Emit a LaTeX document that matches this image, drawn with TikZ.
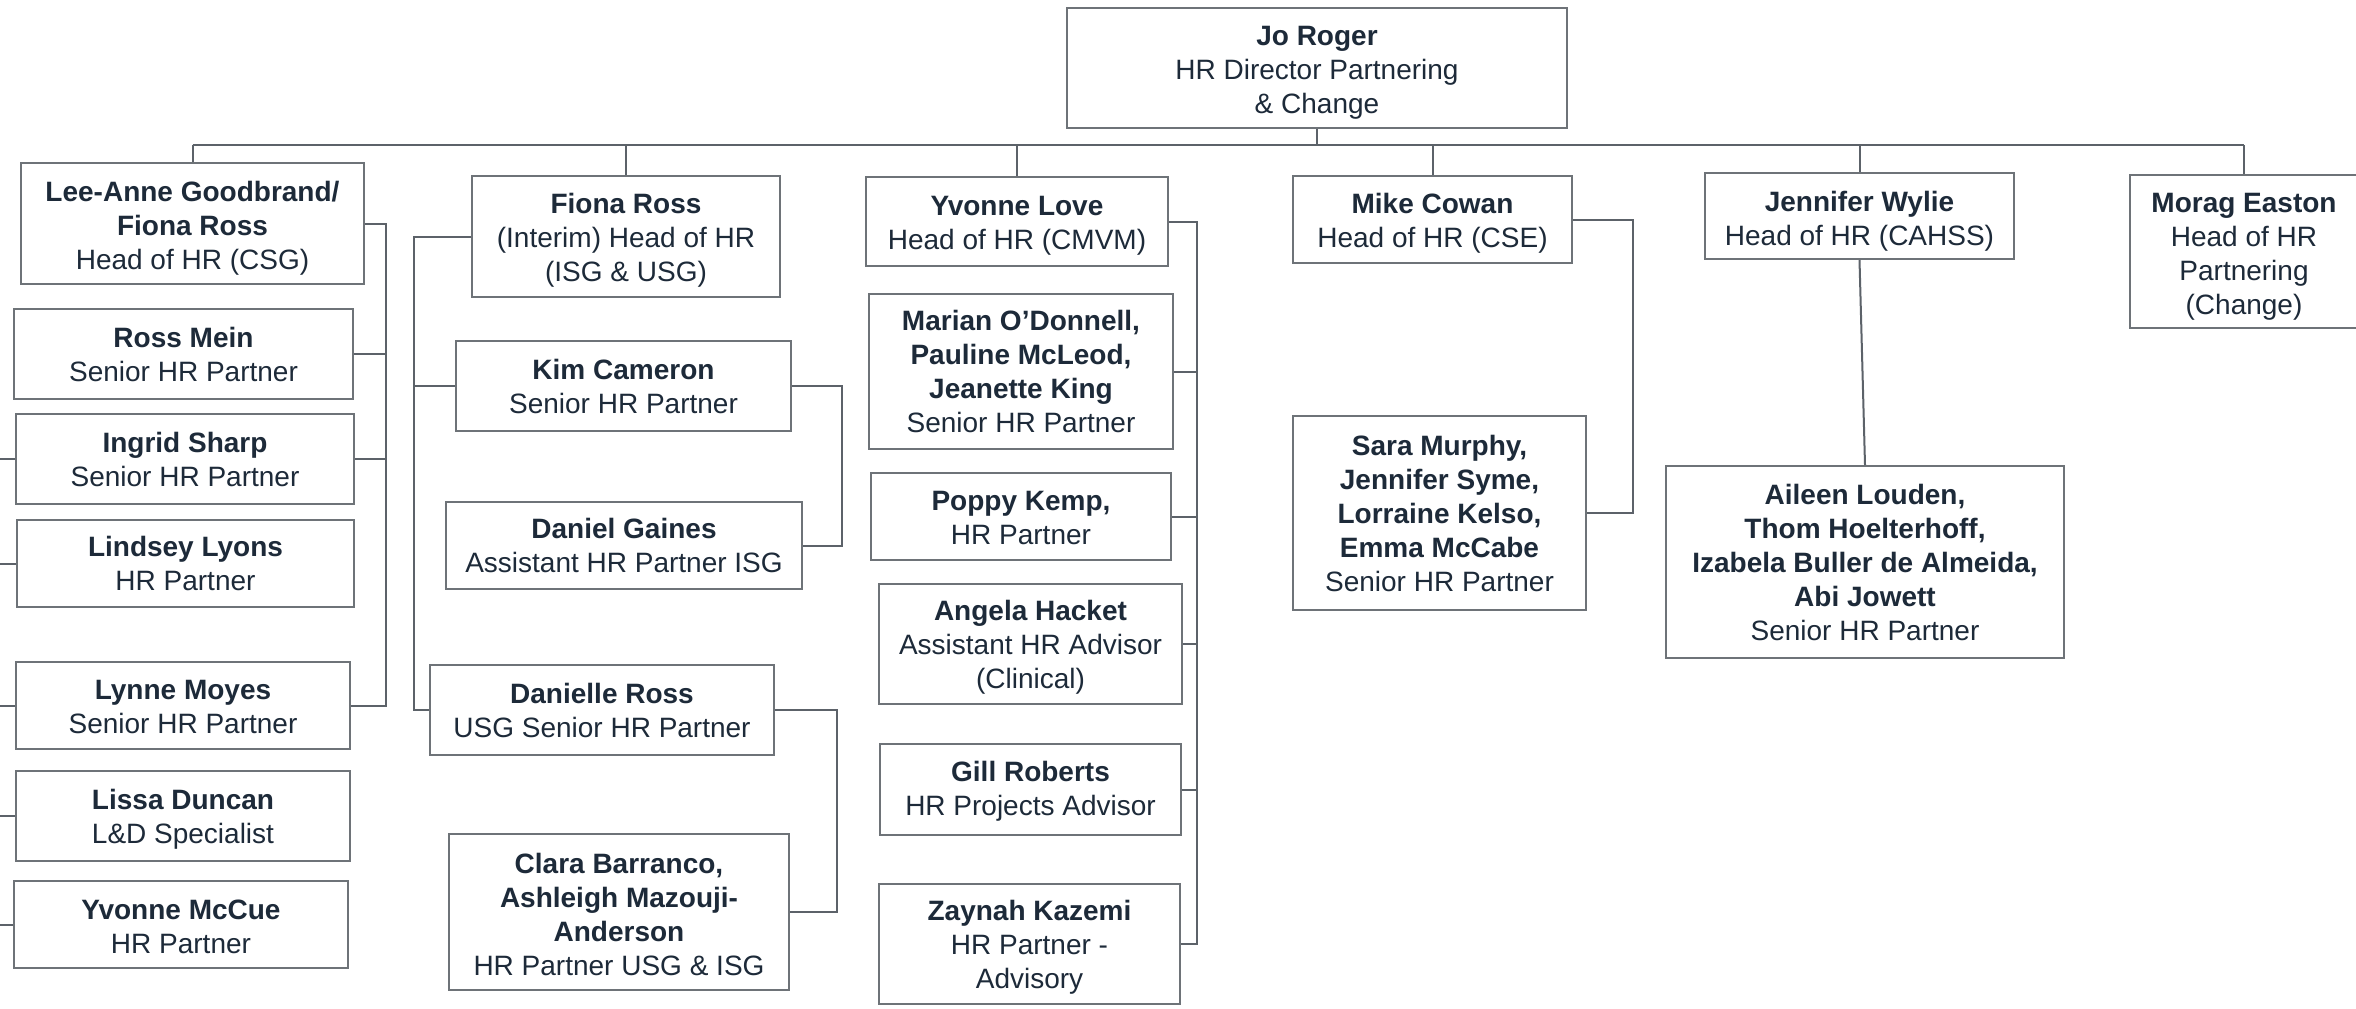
\documentclass[tikz,border=0pt]{standalone}
\usepackage{fontspec}
\setmainfont{Liberation Sans}
\definecolor{txt}{HTML}{1D2A39}
\definecolor{bord}{HTML}{6E7378}
\definecolor{conn}{HTML}{5C6269}
\tikzset{
  pbox/.style={draw=bord, line width=1pt, inner sep=0pt, fill=white},
  ptext/.style={inner sep=0pt, align=center, text=txt,
    font=\fontsize{14}{17}\selectfont},
  link/.style={draw=conn, line width=1pt},
}
% #1 = downward text shift (px), #2 name, #3..#6 box corners (px), #7 text
\newcommand\orgbox[7][0]{%
  \pgfmathsetmacro\cx{(#3+#5)/2}\pgfmathsetmacro\cy{(#4+#6)/2}%
  \pgfmathsetmacro\ty{\cy+#1}%
  \pgfmathsetmacro\bw{(#5-#3)*0.5}\pgfmathsetmacro\bh{(#6-#4)*0.5}%
  \node[pbox, minimum width=\bw pt, minimum height=\bh pt] (#2) at (\cx,\cy) {};
  \node[ptext] (#2-t) at (\cx,\ty) {#7};}
\begin{document}
\begin{tikzpicture}[x=0.5pt,y=-0.5pt]
\useasboundingbox (0,0) rectangle (2356,1008);
\clip (0,0) rectangle (2356,1008);
\fill[white] (0,0) rectangle (2356,1008);
% top
\orgbox[4.5]{jo}{1067}{8}{1567}{128}{\textbf{Jo Roger}\\HR Director Partnering\\\& Change}
% CSG
\orgbox[4.5]{la}{21}{163}{364}{284}{\textbf{Lee-Anne Goodbrand/}\\\textbf{Fiona Ross}\\Head of HR (CSG)}
\orgbox{rm}{14}{309}{353}{399}{\textbf{Ross Mein}\\Senior HR Partner}
\orgbox{is}{16}{414}{354}{504}{\textbf{Ingrid Sharp}\\Senior HR Partner}
\orgbox{ll}{17}{520}{354}{607}{\textbf{Lindsey Lyons}\\HR Partner}
\orgbox[1.5]{lm}{16}{662}{350}{749}{\textbf{Lynne Moyes}\\Senior HR Partner}
\orgbox[3]{ld}{16}{771}{350}{861}{\textbf{Lissa Duncan}\\L\&D Specialist}
\orgbox[2]{ym}{14}{881}{348}{968}{\textbf{Yvonne McCue}\\HR Partner}
% ISG & USG
\orgbox[3.5]{fr}{472}{176}{780}{297}{\textbf{Fiona Ross}\\(Interim) Head of HR\\(ISG \& USG)}
\orgbox{kc}{456}{341}{791}{431}{\textbf{Kim Cameron}\\Senior HR Partner}
\orgbox{dg}{446}{502}{802}{589}{\textbf{Daniel Gaines}\\Assistant HR Partner ISG}
\orgbox{dr}{430}{665}{774}{755}{\textbf{Danielle Ross}\\USG Senior HR Partner}
\orgbox[2]{cb}{449}{834}{789}{990}{\textbf{Clara Barranco,}\\\textbf{Ashleigh Mazouji-}\\\textbf{Anderson}\\HR Partner USG \& ISG}
% CMVM
\orgbox[4.5]{yl}{866}{177}{1168}{266}{\textbf{Yvonne Love}\\Head of HR (CMVM)}
\orgbox{mo}{869}{294}{1173}{449}{\textbf{Marian O’Donnell,}\\\textbf{Pauline McLeod,}\\\textbf{Jeanette King}\\Senior HR Partner}
\orgbox[1.5]{pk}{871}{473}{1171}{560}{\textbf{Poppy Kemp,}\\HR Partner}
\orgbox[3.5]{ah}{879}{584}{1182}{704}{\textbf{Angela Hacket}\\Assistant HR Advisor\\(Clinical)}
\orgbox[2]{gr}{880}{744}{1181}{835}{\textbf{Gill Roberts}\\HR Projects Advisor}
\orgbox[3.5]{zk}{879}{884}{1180}{1004}{\textbf{Zaynah Kazemi}\\HR Partner -\\Advisory}
% CSE
\orgbox[3.5]{mc}{1293}{176}{1572}{263}{\textbf{Mike Cowan}\\Head of HR (CSE)}
\orgbox{sm}{1293}{416}{1586}{610}{\textbf{Sara Murphy,}\\\textbf{Jennifer Syme,}\\\textbf{Lorraine Kelso,}\\\textbf{Emma McCabe}\\Senior HR Partner}
% CAHSS
\orgbox[5]{jw}{1705}{173}{2014}{259}{\textbf{Jennifer Wylie}\\Head of HR (CAHSS)}
\orgbox{al}{1666}{466}{2064}{658}{\textbf{Aileen Louden,}\\\textbf{Thom Hoelterhoff,}\\\textbf{Izabela Buller de Almeida,}\\\textbf{Abi Jowett}\\Senior HR Partner}
% Change
\orgbox[5]{me}{2130}{175}{2358}{328}{\textbf{Morag Easton}\\Head of HR\\Partnering\\(Change)}
% helper coordinates
\coordinate (bus) at (0,145);
\coordinate (edge) at (0,0);
\coordinate (csg) at (386,0);
\coordinate (isgL) at (414,0);
\coordinate (isgR1) at (842,0);
\coordinate (isgR2) at (837,0);
\coordinate (cmvm) at (1197,0);
\coordinate (cse) at (1633,0);
% bus
\draw[link] (jo.south) -- (jo.south |- bus);
\draw[link] (la.north |- bus) -- (me.north |- bus);
\foreach \n in {la,fr,yl,mc,jw,me} \draw[link] (\n.north) -- (\n.north |- bus);
% CSG
\draw[link] (la.east) -- (la.east -| csg) -- (lm.east -| csg) -- (lm.east);
\foreach \n in {rm,is} \draw[link] (\n.east) -- (\n.east -| csg);
\foreach \n in {is,ll,lm,ld,ym} \draw[link] (\n.west) -- (\n.west -| edge);
% ISG
\draw[link] (fr.west) -- (fr.west -| isgL) -- (dr.west -| isgL) -- (dr.west);
\draw[link] (kc.west) -- (kc.west -| isgL);
\draw[link] (kc.east) -- (kc.east -| isgR1) -- (dg.east -| isgR1) -- (dg.east);
\draw[link] (dr.east) -- (dr.east -| isgR2) -- (cb.east -| isgR2) -- (cb.east);
% CMVM
\draw[link] (yl.east) -- (yl.east -| cmvm) -- (zk.east -| cmvm) -- (zk.east);
\foreach \n in {mo,pk,ah,gr} \draw[link] (\n.east) -- (\n.east -| cmvm);
% CSE
\draw[link] (mc.east) -- (mc.east -| cse) -- (sm.east -| cse) -- (sm.east);
% CAHSS
\draw[link] (jw.south) -- (al.north);
\end{tikzpicture}
\end{document}
